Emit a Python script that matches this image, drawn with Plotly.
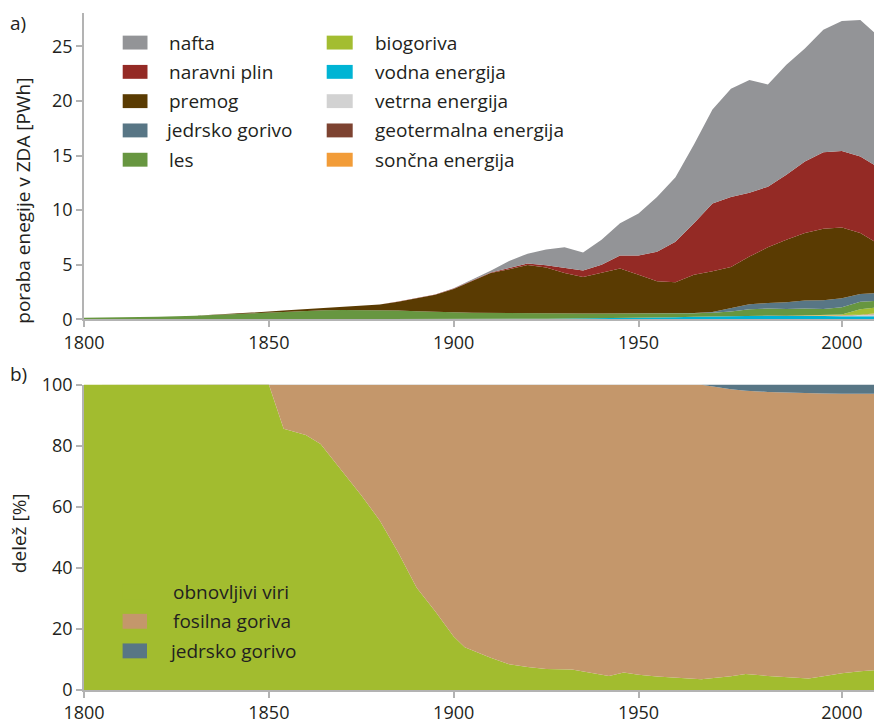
import plotly.graph_objects as go
from plotly.subplots import make_subplots

# ---------------- data: panel a) energy use in the USA [PWh] ----------------
years = [1800, 1810, 1820, 1830, 1840, 1850, 1855, 1860, 1865, 1870, 1875, 1880, 1885,
         1890, 1895, 1900, 1905, 1910, 1915, 1920, 1925, 1930, 1935, 1940, 1945, 1950,
         1955, 1960, 1965, 1970, 1975, 1980, 1985, 1990, 1995, 2000, 2005, 2010, 2014]

vodna = [0, 0, 0, 0, 0, 0, 0, 0, 0, 0, 0, 0, 0, 0,
         0.01, 0.02, 0.03, 0.04, 0.05, 0.06, 0.07, 0.08, 0.09, 0.10, 0.13, 0.15,
         0.17, 0.20, 0.24, 0.28, 0.32, 0.32, 0.34, 0.32, 0.35, 0.32, 0.30, 0.31, 0.30]
vetrna = [0] * 35 + [0.01, 0.03, 0.10, 0.18]
geotermalna = [0] * 31 + [0.01, 0.01, 0.01, 0.01, 0.01, 0.02, 0.02, 0.02]
soncna = [0] * 36 + [0.005, 0.01, 0.04]
biogoriva = [0] * 34 + [0.01, 0.02, 0.10, 0.50, 0.55]
les = [0.15, 0.18, 0.25, 0.33, 0.48, 0.65, 0.75, 0.82, 0.85, 0.86, 0.86, 0.85, 0.82,
       0.75, 0.67, 0.63, 0.58, 0.55, 0.51, 0.49, 0.48, 0.46, 0.45, 0.44, 0.42, 0.40,
       0.36, 0.33, 0.33, 0.34, 0.40, 0.60, 0.65, 0.62, 0.62, 0.60, 0.65, 0.67, 0.60]
jedrsko = [0] * 28 + [0.01, 0.06, 0.30, 0.45, 0.50, 0.62, 0.75, 0.80, 0.84, 0.72, 0.70]
premog = [0, 0, 0, 0.01, 0.02, 0.07, 0.08, 0.11, 0.15, 0.24, 0.36, 0.51, 0.80,
          1.20, 1.57, 2.14, 2.94, 3.66, 4.04, 4.42, 4.21, 3.71, 3.34, 3.71, 4.10, 3.55,
          2.97, 2.87, 3.52, 3.72, 3.78, 4.37, 5.10, 5.73, 6.16, 6.54, 6.46, 5.57, 4.71]
plin = [0, 0, 0, 0, 0, 0, 0, 0, 0, 0, 0, 0, 0.02,
        0.04, 0.03, 0.04, 0.04, 0.05, 0.10, 0.15, 0.20, 0.50, 0.60, 0.75, 1.20, 1.75,
        2.70, 3.70, 4.70, 6.20, 6.40, 5.85, 5.55, 5.95, 6.55, 7.00, 7.00, 7.00, 7.00]
nafta = [0, 0, 0, 0, 0, 0, 0, 0, 0, 0, 0, 0, 0,
         0, 0, 0.02, 0.06, 0.15, 0.65, 0.90, 1.44, 1.85, 1.65, 2.30, 2.95, 3.85,
         5.00, 5.90, 7.20, 8.60, 9.90, 10.30, 9.35, 10.05, 10.35, 11.20, 11.90, 12.50, 12.10]

# ---------------- data: panel b) shares [%] ----------------
b_years = [1800, 1850, 1854, 1860, 1864, 1870, 1875, 1880, 1885, 1890, 1895, 1900, 1903,
           1910, 1915, 1920, 1925, 1932, 1935, 1942, 1946, 1950, 1955, 1960, 1967, 1975,
           1979, 1985, 1990, 1996, 2000, 2005, 2010, 2014]
obnovljivi = [100, 100, 85.5, 83.5, 80.5, 71.5, 63.8, 55.5, 45.0, 33.5, 25.8, 17.5, 14.0,
              10.6, 8.4, 7.5, 6.9, 6.7, 6.0, 4.6, 5.7, 5.0, 4.4, 4.0, 3.5, 4.5,
              5.2, 4.6, 4.2, 3.8, 4.5, 5.5, 6.1, 6.5]
fosilna = [0, 0, 14.5, 16.5, 19.5, 28.5, 36.2, 44.5, 55.0, 66.5, 74.2, 82.5, 86.0,
           89.4, 91.6, 92.5, 93.1, 93.3, 94.0, 95.4, 94.3, 95.0, 95.6, 96.0, 96.4, 94.0,
           92.8, 93.0, 93.2, 93.3, 92.6, 91.5, 90.9, 90.5]
jedrsko_delez = [0] * 24 + [0.1, 1.5, 2.0, 2.4, 2.6, 2.9, 2.9, 3.0, 3.0, 3.0]

x_tickvals = [1800, 1850, 1900, 1950, 2005]
x_ticktext = ["1800", "1850", "1900", "1950", "2000"]
ya_ticks = [0, 5, 10, 15, 20, 25]
yb_ticks = [0, 20, 40, 60, 80, 100]

# ---------------- styling ----------------
FONT = "Open Sans"
TXT = "#231f20"
AX = "#b3b3b3"
W, H = 874, 726
ML, MR, MT, MB = 84, 0, 8, 36
PW, PH = W - ML - MR, H - MT - MB

top_series = [
    ("vodna energija", vodna, "#00b4d4"),
    ("vetrna energija", vetrna, "#d2d2d2"),
    ("geotermalna energija", geotermalna, "#7d4331"),
    ("sončna energija", soncna, "#f29c38"),
    ("biogoriva", biogoriva, "#a3bd31"),
    ("les", les, "#679640"),
    ("jedrsko gorivo", jedrsko, "#587685"),
    ("premog", premog, "#5a3b02"),
    ("naravni plin", plin, "#942a25"),
    ("nafta", nafta, "#939497"),
]
colors = {n: c for n, _, c in top_series}

bottom_series = [
    ("obnovljivi viri", obnovljivi, "#a2bc2f"),
    ("fosilna goriva", fosilna, "#c4976b"),
    ("jedrsko gorivo", jedrsko_delez, "#587685"),
]

fig = make_subplots(rows=2, cols=1)

for name, vals, col in top_series:
    fig.add_trace(go.Scatter(x=years, y=vals, name=name, mode="lines",
                             stackgroup="a", line=dict(width=0, color=col),
                             fillcolor=col, showlegend=False), row=1, col=1)
for name, vals, col in bottom_series:
    fig.add_trace(go.Scatter(x=b_years, y=vals, name=name, mode="lines",
                             stackgroup="b", line=dict(width=0, color=col),
                             fillcolor=col, showlegend=False), row=2, col=1)


def px_x(px):
    return (px - ML) / PW


def px_y(py):
    return (H - MB - py) / PH


top_dom = [px_y(316.7), 1.0]
bot_dom = [0.0, px_y(382.3)]

axis_common = dict(showline=True, linecolor=AX, linewidth=1.5, ticks="outside",
                   tickcolor=AX, tickwidth=1.5, ticklen=6, showgrid=False,
                   zeroline=False, tickfont=dict(family=FONT, size=18, color=TXT))

fig.update_xaxes(range=[1800, 2013.7], tickvals=x_tickvals, ticktext=x_ticktext,
                 **axis_common)
fig.update_yaxes(**axis_common)
fig.update_layout(
    xaxis=dict(anchor="y", domain=[0, 1]),
    xaxis2=dict(anchor="y2", domain=[0, 1]),
    yaxis=dict(domain=top_dom, range=[0, 28.04], tickvals=ya_ticks),
    yaxis2=dict(domain=bot_dom, range=[0, 100], tickvals=yb_ticks),
)

shapes = []
annotations = []

# legend of panel a) (two columns)
col_a = ["nafta", "naravni plin", "premog", "jedrsko gorivo", "les"]
col_b = ["biogoriva", "vodna energija", "vetrna energija",
         "geotermalna energija", "sončna energija"]
for names, x0, x1, xt in [(col_a, 122.7, 147.5, 167), (col_b, 326.7, 352.7, 373)]:
    for i, n in enumerate(names):
        yc = 37.8 + i * 29.5
        shapes.append(dict(type="rect", xref="paper", yref="paper",
                           x0=px_x(x0), x1=px_x(x1), y0=px_y(yc + 7), y1=px_y(yc - 7),
                           fillcolor=colors[n], line=dict(width=0)))
        annotations.append(dict(text=n, xref="paper", yref="paper",
                                x=px_x(xt - (4 if n.startswith("j") else 0)),
                                y=px_y(yc), xanchor="left", yanchor="middle",
                                showarrow=False,
                                font=dict(family=FONT, size=19, color=TXT)))

# legend of panel b)
for i, (n, _, c) in enumerate(bottom_series):
    yc = 591 + i * 29.8
    shapes.append(dict(type="rect", xref="paper", yref="paper",
                       x0=px_x(122.6), x1=px_x(147), y0=px_y(yc + 7.5), y1=px_y(yc - 7.5),
                       fillcolor=c, line=dict(width=0)))
    annotations.append(dict(text=n, xref="paper", yref="paper",
                            x=px_x(171 - (4 if n.startswith("j") else 0)),
                            y=px_y(yc), xanchor="left", yanchor="middle",
                            showarrow=False, font=dict(family=FONT, size=19, color=TXT)))

# panel labels and axis titles
annotations += [
    dict(text="a)", xref="paper", yref="paper", x=px_x(8), y=px_y(18),
         xanchor="left", yanchor="middle", showarrow=False,
         font=dict(family=FONT, size=19, color=TXT)),
    dict(text="b)", xref="paper", yref="paper", x=px_x(8), y=px_y(372),
         xanchor="left", yanchor="middle", showarrow=False,
         font=dict(family=FONT, size=19, color=TXT)),
    dict(text="poraba enegije v ZDA [PWh]", xref="paper", yref="paper",
         x=px_x(23), y=px_y(323), textangle=-90, xanchor="center", yanchor="bottom",
         showarrow=False, font=dict(family=FONT, size=19, color=TXT)),
    dict(text="delež [%]", xref="paper", yref="paper",
         x=px_x(19), y=px_y(532), textangle=-90, xanchor="center", yanchor="middle",
         showarrow=False, font=dict(family=FONT, size=19, color=TXT)),
]

fig.update_layout(
    width=W, height=H,
    margin=dict(l=ML, r=MR, t=MT, b=MB, pad=0),
    paper_bgcolor="white", plot_bgcolor="white",
    font=dict(family=FONT, size=18, color=TXT),
    shapes=shapes, annotations=annotations,
    showlegend=False,
)

fig.write_html("out.html", config={"displayModeBar": False},
               post_script="document.body.style.margin='0';"
                           "document.body.style.overflow='hidden';")
